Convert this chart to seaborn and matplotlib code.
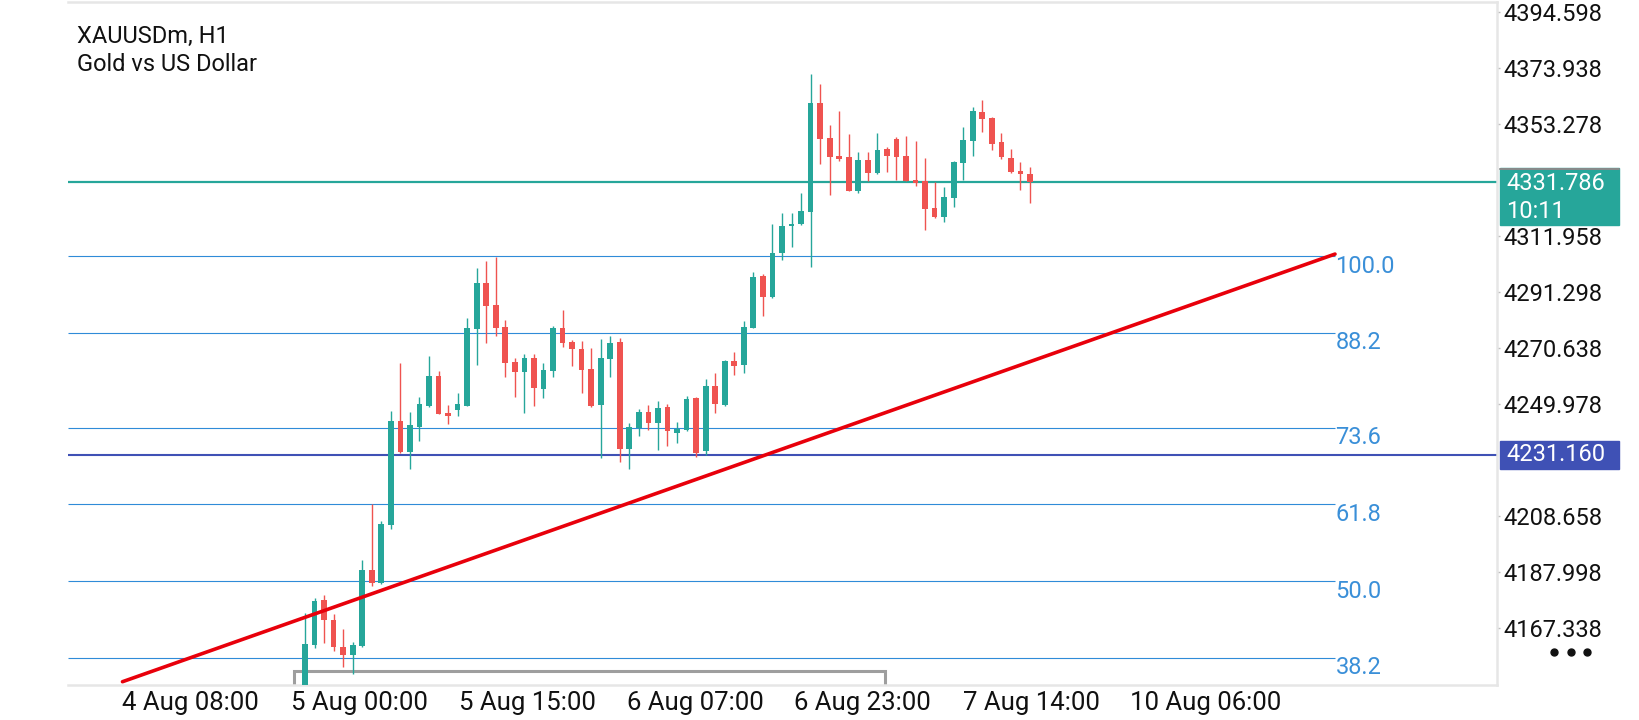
import numpy as np
import pandas as pd
import matplotlib
matplotlib.use("Agg")
import matplotlib.pyplot as plt
import matplotlib.transforms as mtransforms
from matplotlib.patches import Rectangle
import seaborn as sns

sns.set_theme(style="white")
plt.rcParams['font.family'] = ['Roboto', 'DejaVu Sans']

# H1 candles (bar 0 = first visible candle)
opens = [4144.0, 4161.1, 4177.6, 4170.2, 4160.2, 4157.4, 4160.7, 4188.7, 4183.8, 4205.3,
         4243.7, 4232.4, 4241.6, 4249.2, 4260.3, 4246.6, 4247.8, 4249.3, 4277.6, 4294.7,
         4286.5, 4278.4, 4265.5, 4261.9, 4266.8, 4255.5, 4262.3, 4278.1, 4273.0, 4270.3,
         4262.9, 4249.6, 4266.6, 4272.9, 4233.5, 4241.2, 4247.1, 4243.1, 4248.9, 4239.4,
         4240.4, 4252.3, 4232.5, 4256.6, 4249.6, 4265.8, 4264.4, 4278.1, 4297.2, 4289.6,
         4305.6, 4315.7, 4316.3, 4320.9, 4361.2, 4348.1, 4341.4, 4341.1, 4328.7, 4340.0,
         4335.1, 4344.0, 4347.8, 4341.5, 4332.6, 4332.3, 4322.4, 4319.1, 4326.1, 4339.0,
         4347.1, 4357.6, 4355.6, 4346.5, 4340.6, 4335.9, 4334.8]
highs = [4172.7, 4178.5, 4179.5, 4172.5, 4166.9, 4162.3, 4192.4, 4213.0, 4206.8, 4247.4,
         4265.0, 4247.0, 4252.7, 4267.7, 4262.2, 4249.6, 4254.0, 4281.7, 4300.3, 4302.7,
         4304.3, 4281.0, 4267.1, 4268.4, 4268.4, 4265.2, 4278.9, 4284.7, 4273.6, 4273.2,
         4270.6, 4273.9, 4275.1, 4274.3, 4242.9, 4248.1, 4249.6, 4251.1, 4250.0, 4243.2,
         4252.9, 4252.7, 4259.2, 4261.5, 4266.2, 4269.0, 4280.6, 4298.6, 4297.9, 4316.4,
         4320.3, 4320.3, 4327.7, 4371.7, 4368.1, 4352.9, 4358.1, 4349.6, 4343.0, 4343.0,
         4349.9, 4344.9, 4348.6, 4348.9, 4347.0, 4340.9, 4332.0, 4329.9, 4339.6, 4352.3,
         4359.7, 4362.2, 4356.0, 4349.9, 4344.0, 4339.2, 4337.3]
lows = [4141.0, 4159.8, 4161.9, 4158.9, 4153.1, 4150.3, 4160.2, 4182.9, 4183.5, 4203.7,
        4232.0, 4225.9, 4236.4, 4249.0, 4246.2, 4242.7, 4245.7, 4249.1, 4264.4, 4272.6,
        4275.1, 4260.0, 4252.7, 4246.8, 4249.2, 4252.3, 4260.0, 4271.1, 4264.1, 4253.9,
        4249.0, 4230.2, 4260.0, 4228.7, 4225.9, 4238.3, 4240.4, 4233.0, 4234.5, 4235.7,
        4240.1, 4230.4, 4231.1, 4246.8, 4249.2, 4260.7, 4261.5, 4277.9, 4282.4, 4289.0,
        4303.1, 4308.0, 4316.1, 4300.5, 4338.5, 4327.1, 4339.8, 4328.5, 4327.7, 4332.4,
        4334.9, 4335.7, 4332.6, 4332.1, 4330.4, 4314.2, 4318.5, 4317.2, 4322.8, 4332.6,
        4341.5, 4350.2, 4343.7, 4340.3, 4335.3, 4328.9, 4324.3]
closes = [4161.3, 4177.3, 4170.2, 4160.2, 4157.4, 4161.1, 4188.7, 4183.8, 4205.7, 4243.7,
          4232.4, 4242.2, 4250.0, 4260.3, 4246.4, 4245.7, 4250.0, 4278.1, 4294.7, 4286.1,
          4278.1, 4265.2, 4261.9, 4267.1, 4255.8, 4262.5, 4278.1, 4272.6, 4270.3, 4262.5,
          4249.3, 4266.9, 4272.6, 4233.5, 4241.6, 4246.9, 4243.1, 4248.4, 4240.1, 4240.8,
          4251.8, 4231.9, 4256.6, 4250.0, 4265.8, 4264.0, 4278.5, 4296.7, 4289.6, 4305.6,
          4315.8, 4316.5, 4321.2, 4361.2, 4347.8, 4341.1, 4340.3, 4328.7, 4340.0, 4335.3,
          4343.7, 4341.6, 4341.2, 4332.3, 4331.6, 4321.9, 4319.1, 4326.5, 4339.4, 4347.4,
          4358.1, 4355.1, 4346.0, 4341.0, 4335.5, 4334.7, 4331.786]

# time axis labels and where they sit (in bar units)
time_labels = ["4 Aug 08:00", "5 Aug 00:00", "5 Aug 15:00", "6 Aug 07:00",
               "6 Aug 23:00", "7 Aug 14:00", "10 Aug 06:00"]
time_ticks = [-19.13, -1.44, 16.11, 33.75, 51.31, 68.94, 86.52]

# right price scale
price_ticks = [4394.598, 4373.938, 4353.278, 4311.958, 4291.298,
               4270.638, 4249.978, 4208.658, 4187.998, 4167.338]

# fibonacci retracement
fib_levels = [100.0, 88.2, 73.6, 61.8, 50.0, 38.2]
fib_high = 4304.6
fib_low = 4064.8
fib_end = 107.97

# trend line and other objects
trend_x = [-19.13, 107.97]
trend_y = [4147.5, 4305.3]
bracket_x = [-1.11, 60.82]
bracket_y = 4151.5

current_price = 4331.786
countdown = "10:11"
level_price = 4231.160

UP = '#26a69a'
DOWN = '#ef5350'
FIB = '#2f8bd8'

df = pd.DataFrame({'open': opens, 'high': highs, 'low': lows, 'close': closes})
df['bar'] = np.arange(len(df))
df['color'] = np.where(df['close'] >= df['open'], UP, DOWN)
df['body_lo'] = df[['open', 'close']].min(axis=1)
df['body_h'] = (df['close'] - df['open']).abs().clip(lower=0.45)

fig = plt.figure(figsize=(16.4, 7.2), dpi=100)
ax = fig.add_axes([68 / 1640, 35 / 720, 1429 / 1640, 683.5 / 720])
ax.set_xlim(-24.84, 124.95)
ax.set_ylim(4146.29, 4398.5)

# fib lines + labels
for lvl in fib_levels:
    p = fib_low + (fib_high - fib_low) * lvl / 100.0
    ax.hlines(p, -24.84, fib_end, color=FIB, lw=0.8, zorder=1)
    ax.text(fib_end + 0.05, p + 0.5, f"{lvl:.1f}", color='#3a8fd8', fontsize=17,
            ha='left', va='top', zorder=2)

# price lines
ax.axhline(level_price, color='#3f51b5', lw=1.5, zorder=1)
ax.axhline(current_price + 0.4, color=DOWN, lw=0.7, zorder=1)
ax.axhline(current_price, color=UP, lw=1.6, zorder=1)

# candles
ax.vlines(df['bar'], df['low'], df['high'], colors=df['color'], lw=1.0, zorder=3)
ax.bar(df['bar'], df['body_h'], bottom=df['body_lo'], width=0.6,
       color=df['color'], linewidth=0, zorder=3)

# gray bracket along the bottom
ax.plot([bracket_x[0], bracket_x[0], bracket_x[1], bracket_x[1]],
        [4146.0, bracket_y, bracket_y, 4146.0], color='#9e9e9e', lw=2.2, zorder=2,
        solid_joinstyle='miter')

# red trend line
sns.lineplot(x=trend_x, y=trend_y, color='#e8000b', lw=2.6, ax=ax, zorder=4)

# axes frame
ax.spines['left'].set_visible(False)
for s in ['top', 'right', 'bottom']:
    ax.spines[s].set_color('#e6e6e6')
    ax.spines[s].set_linewidth(1.8)

ax.yaxis.tick_right()
ax.set_yticks(price_ticks)
ax.set_yticklabels([f"{v:.3f}" for v in price_ticks])
ax.tick_params(axis='y', length=2.5, width=1, color='#bdbdbd', pad=2,
               labelsize=17, labelcolor='#111111')
ax.set_xticks(time_ticks)
ax.set_xticklabels(time_labels)
ax.tick_params(axis='x', length=3, width=1, color='#d6d6d6', pad=1.5,
               labelsize=18.5, labelcolor='#111111')
for lbl in ax.get_xticklabels():
    lbl.set_ha('left')
ax.set_xlabel("")
ax.set_ylabel("")
ax.grid(False)

# price boxes on the scale
trans = mtransforms.blended_transform_factory(ax.transAxes, ax.transData)
ax.add_patch(Rectangle((1.0021, 4316.03), 0.0833, 20.92, transform=trans,
                       color=UP, clip_on=False, zorder=5))
ax.plot([1.0021, 1.0854], [4336.8, 4336.8], transform=trans, color='#8a8a8a',
        lw=1.4, clip_on=False, zorder=6)
ax.text(1.0065, 4331.2, f"{current_price:.3f}", transform=trans, color='white',
        fontsize=17, ha='left', va='center', zorder=7)
ax.text(1.0065, 4321.0, countdown, transform=trans, color='white',
        fontsize=17, ha='left', va='center', zorder=7)

ax.add_patch(Rectangle((1.0021, 4226.0), 0.0833, 10.33, transform=trans,
                       color='#3f51b5', clip_on=False, zorder=5))
ax.text(1.0068, level_price, f"{level_price:.3f}", transform=trans, color='white',
        fontsize=17, ha='left', va='center', zorder=7)

# menu dots
ax.plot([1.0399, 1.0516, 1.0632], [4158.6] * 3, 'o', ms=5, color='#111111',
        transform=trans, clip_on=False)

# symbol caption
fig.text(77 / 1640, 1 - 42.7 / 720, "XAUUSDm, H1", fontsize=17, color='#111111',
         va='baseline', ha='left')
fig.text(77 / 1640, 1 - 70.7 / 720, "Gold vs US Dollar", fontsize=17, color='#111111',
         va='baseline', ha='left')

fig.savefig("out.png", dpi=100, facecolor='white')
